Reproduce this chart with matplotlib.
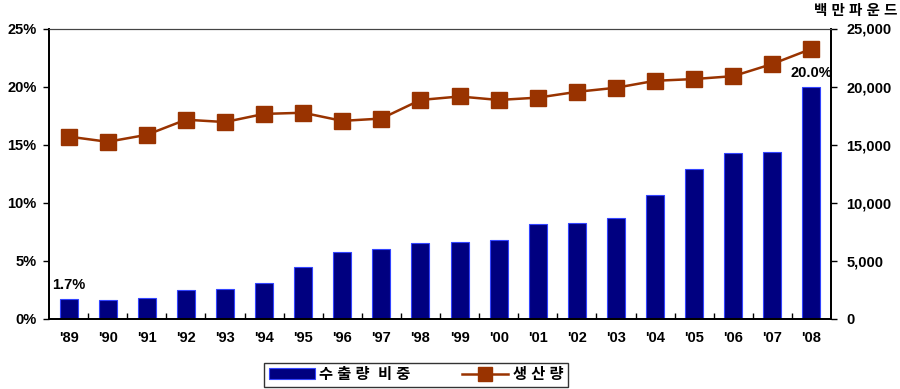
import numpy as np
import matplotlib.pyplot as plt
from matplotlib.ticker import FuncFormatter, FixedLocator

plt.rcParams['font.family'] = ['Liberation Sans', 'Noto Sans CJK KR', 'DejaVu Sans']
plt.rcParams['font.weight'] = 'bold'

years = ["'89", "'90", "'91", "'92", "'93", "'94", "'95", "'96", "'97", "'98",
         "'99", "'00", "'01", "'02", "'03", "'04", "'05", "'06", "'07", "'08"]
export_share = [1.7, 1.6, 1.8, 2.5, 2.6, 3.1, 4.45, 5.75, 6.05, 6.5,
                6.6, 6.8, 8.15, 8.25, 8.65, 10.7, 12.9, 14.25, 14.35, 20.0]
production = [15700, 15250, 15850, 17150, 16950, 17650, 17750, 17050, 17250, 18850,
              19150, 18850, 19050, 19550, 19900, 20500, 20650, 20900, 21950, 23250]

bar_color = '#000080'
line_color = '#993300'

fig = plt.figure(figsize=(9, 3.89), dpi=100)
ax = fig.add_axes([49 / 900, 1 - 319 / 389, 782 / 900, 290.5 / 389])
ax2 = ax.twinx()

x = np.arange(len(years))
ax.bar(x, export_share, width=0.46, color=bar_color, edgecolor='#3344ff',
       linewidth=0.8, label='수 출 량  비 중', zorder=2)
ax2.plot(x, production, color=line_color, lw=1.8, marker='s', markersize=11,
         markeredgecolor=line_color, label='생 산 량', zorder=3)

ax.set_xlim(-0.5, len(years) - 0.5)
ax.set_ylim(0, 25)
ax2.set_ylim(0, 25000)
ax.set_yticks(np.arange(0, 26, 5))
ax.yaxis.set_major_formatter(FuncFormatter(lambda v, p: f'{v:.0f}%'))
ax2.set_yticks(np.arange(0, 25001, 5000))
ax2.yaxis.set_major_formatter(FuncFormatter(lambda v, p: f'{v:,.0f}'))

ax.set_xticks(x)
ax.set_xticklabels(years)
ax.xaxis.set_minor_locator(FixedLocator(np.arange(0.5, len(years) - 1, 1)))
ax.tick_params(axis='x', which='major', length=0, pad=9, labelsize=10.5)
ax.tick_params(axis='x', which='minor', direction='in', length=4, width=1)
ax.tick_params(axis='y', direction='out', length=4, width=1, labelsize=10.5, pad=5)
ax2.tick_params(axis='y', direction='out', length=4, width=1, labelsize=10.5, pad=7)

for sp in ['left', 'bottom', 'right']:
    ax.spines[sp].set_linewidth(1.3)
    ax2.spines[sp].set_linewidth(1.3)
ax.spines['top'].set_color('#444444')
ax2.spines['top'].set_color('#444444')

ax.text(x[0], export_share[0] + 0.6, f'{export_share[0]:.1f}%', ha='center',
        va='bottom', fontsize=10.5, fontweight='bold')
ax.text(x[-1], export_share[-1] + 0.6, f'{export_share[-1]:.1f}%', ha='center',
        va='bottom', fontsize=10.5, fontweight='bold')

fig.text(897 / 900, 1 - 11 / 389, '백 만 파 운 드', ha='right', va='center',
         fontsize=10.5, fontweight='bold')

h1, l1 = ax.get_legend_handles_labels()
h2, l2 = ax2.get_legend_handles_labels()
leg = fig.legend(h1 + h2, l1 + l2, loc='center', bbox_to_anchor=(416 / 900, 1 - 375 / 389),
                 ncol=2, frameon=True, fancybox=False, edgecolor='black',
                 fontsize=11, columnspacing=3.4, handlelength=3.0, handletextpad=0.3,
                 borderpad=0.3, markerscale=0.95)
leg.get_frame().set_linewidth(1)

fig.savefig('out.png', dpi=100)
